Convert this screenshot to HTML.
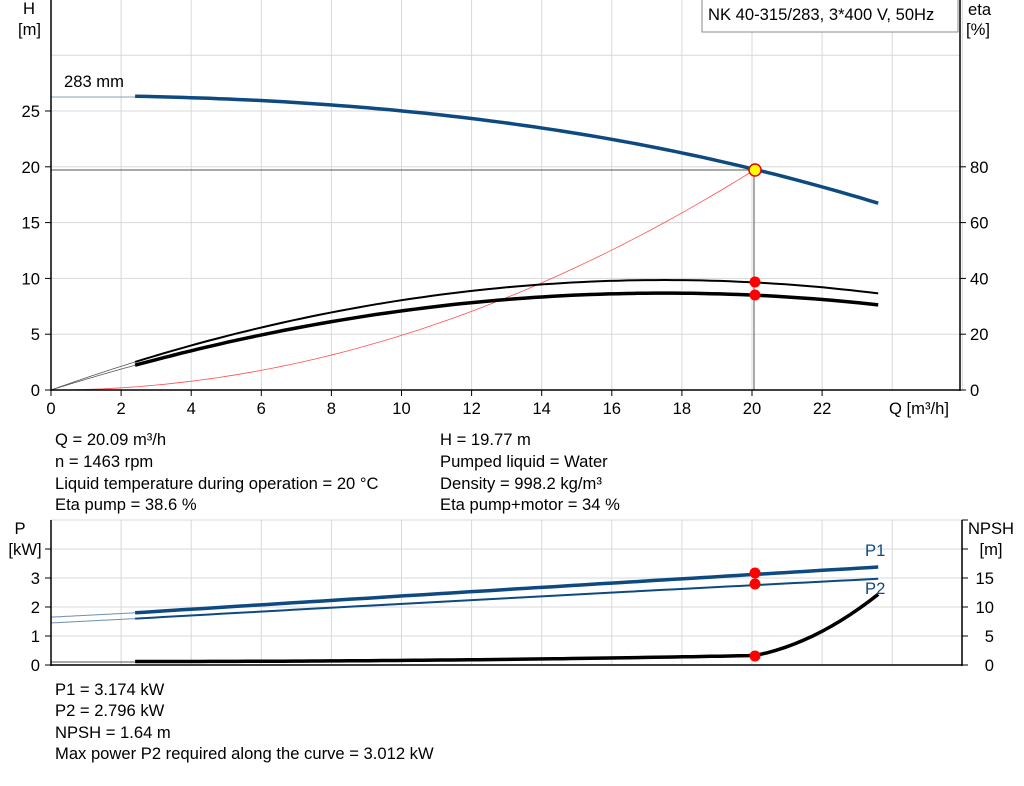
<!DOCTYPE html>
<html><head><meta charset="utf-8"><style>
body{margin:0;background:#fff;width:1024px;height:781px;overflow:hidden;font-family:"Liberation Sans",Arial,sans-serif}
svg text{font-family:"Liberation Sans",Arial,sans-serif;font-size:16.6px;fill:#000}
</style></head><body>
<svg id="s" width="1024" height="781" xmlns="http://www.w3.org/2000/svg">
<g id="grid" stroke="#d8d8d8" stroke-width="1"></g>
<g id="g"></g>
</svg>
<script>
const NS="http://www.w3.org/2000/svg";
const s=document.getElementById('s'),G=document.getElementById('g'),GR=document.getElementById('grid');
function el(t,a,p,txt){const e=document.createElementNS(NS,t);for(const k in a)e.setAttribute(k,a[k]);if(txt!==undefined)e.textContent=txt;(p||G).appendChild(e);return e;}
const X=q=>51+q*35.05;
const YH=h=>390-h*11.16, YE=e=>390-e*2.79;
const YP=p=>665-p*29, YN=n=>665-n*5.8;
for(let q=2;q<=26;q+=2){el('line',{x1:X(q),y1:0,x2:X(q),y2:390},GR);}
for(let h=5;h<=30;h+=5){el('line',{x1:51,y1:YH(h),x2:960,y2:YH(h)},GR);}
for(let q=2;q<=26;q+=2){el('line',{x1:X(q),y1:520,x2:X(q),y2:665},GR);}
for(let p=1;p<=4;p++){el('line',{x1:51,y1:YP(p),x2:962,y2:YP(p)},GR);}
el('line',{x1:51,y1:520,x2:962,y2:520},GR);
function path(f,yf,a,b,attrs){let d='';for(let i=0;i<=80;i++){const q=a+(b-a)*i/80;d+=(i?'L':'M')+X(q).toFixed(1)+' '+yf(f(q)).toFixed(1);}attrs.d=d;attrs.fill='none';el('path',attrs);}
el('line',{x1:51,y1:170,x2:754,y2:170,stroke:'#555','stroke-width':1});
el('line',{x1:754,y1:170,x2:754,y2:390,stroke:'#555','stroke-width':1});
const H=q=>26.39-0.0112*q*q-0.00026*q*q*q;
el('line',{x1:51,y1:97,x2:135,y2:97,stroke:'#8aa0b8','stroke-width':1});
path(H,YH,2.4,23.6,{stroke:'#0e4a80','stroke-width':3.5});
path(q=>0.04898*q*q,YH,0,20.09,{stroke:'#ff5050','stroke-width':0.8});
const E1=q=>0.1287*(35*q-q*q), E2=q=>0.1134*(35*q-q*q);
path(E1,YE,0,2.4,{stroke:'#555','stroke-width':0.8});
path(E2,YE,0,2.4,{stroke:'#555','stroke-width':0.8});
path(E1,YE,2.4,23.6,{stroke:'#000','stroke-width':2});
path(E2,YE,2.4,23.6,{stroke:'#000','stroke-width':3.5});
el('circle',{cx:755,cy:282,r:5.5,fill:'#f00'});
el('circle',{cx:755,cy:295,r:5.5,fill:'#f00'});
el('circle',{cx:755,cy:170,r:6,fill:'#ff0','stroke':'#e00','stroke-width':1.5});
el('line',{x1:51,y1:0,x2:51,y2:391,stroke:'#000','stroke-width':1.5});
el('line',{x1:960,y1:0,x2:960,y2:391,stroke:'#000','stroke-width':1.5});
el('line',{x1:51,y1:390,x2:960,y2:390,stroke:'#000','stroke-width':1.5});
for(let h=0;h<=25;h+=5){el('line',{x1:45,y1:YH(h),x2:51,y2:YH(h),stroke:'#000'});el('text',{x:40,y:YH(h)+6,'text-anchor':'end'},G,h);}
for(let e=0;e<=80;e+=20){el('line',{x1:960,y1:YE(e),x2:966,y2:YE(e),stroke:'#000'});el('text',{x:970,y:YE(e)+6},G,e);}
for(let q=0;q<=22;q+=2){el('line',{x1:X(q),y1:390,x2:X(q),y2:396,stroke:'#000'});el('text',{x:X(q),y:414,'text-anchor':'middle'},G,q);}
el('text',{x:889,y:414},G,'Q [m³/h]');
el('text',{x:23,y:14},G,'H');el('text',{x:18,y:35},G,'[m]');
el('text',{x:968,y:15},G,'eta');el('text',{x:966,y:35},G,'[%]');
el('text',{x:64,y:87},G,'283 mm');
el('rect',{x:702,y:-1,width:256,height:33,fill:'#fff',stroke:'#888'});
el('text',{x:708,y:20},G,'NK 40-315/283, 3*400 V, 50Hz');
[['Q = 20.09 m³/h',55,445],['n = 1463 rpm',55,467],['Liquid temperature during operation = 20 °C',55,489],['Eta pump = 38.6 %',55,510],
 ['H = 19.77 m',440,445],['Pumped liquid = Water',440,467],['Density = 998.2 kg/m³',440,489],['Eta pump+motor = 34 %',440,510],
 ['P1 = 3.174 kW',55,695],['P2 = 2.796 kW',55,716],['NPSH = 1.64 m',55,738],['Max power P2 required along the curve = 3.012 kW',55,759]
].forEach(t=>el('text',{x:t[1],y:t[2]},G,t[0]));
const P1=q=>1.8+0.077*(q-2.4)-0.00012*(q-2.4)*(q-2.4), P2=q=>1.6+0.0676*(q-2.4)-0.00013*(q-2.4)*(q-2.4);
path(q=>1.65+0.0625*q,YP,0,2.4,{stroke:'#6f8fb0','stroke-width':1});
path(q=>1.45+0.0625*q,YP,0,2.4,{stroke:'#6f8fb0','stroke-width':1});
path(P1,YP,2.4,23.6,{stroke:'#0e4a80','stroke-width':3.5});
path(P2,YP,2.4,23.6,{stroke:'#0e4a80','stroke-width':2});
const N=q=>q<=20.09?0.6+0.00332*(q-2.4)*(q-2.4):1.64+1.2*(q-20.09)+0.515*(q-20.09)*(q-20.09);
el('line',{x1:51,y1:662,x2:135,y2:662,stroke:'#555','stroke-width':1});
path(N,YN,2.4,23.6,{stroke:'#000','stroke-width':3.5});
el('circle',{cx:755,cy:573,r:5.5,fill:'#f00'});
el('circle',{cx:755,cy:584,r:5.5,fill:'#f00'});
el('circle',{cx:755,cy:656,r:5.5,fill:'#f00'});
el('text',{x:865,y:556,style:'fill:#0e4a80'},G,'P1');
el('text',{x:865,y:594,style:'fill:#0e4a80'},G,'P2');
el('line',{x1:51,y1:520,x2:51,y2:666,stroke:'#000','stroke-width':1.5});
el('line',{x1:962,y1:520,x2:962,y2:666,stroke:'#000','stroke-width':1.5});
el('line',{x1:51,y1:665,x2:962,y2:665,stroke:'#000','stroke-width':1.5});
for(let p=0;p<=4;p++){el('line',{x1:45,y1:YP(p),x2:51,y2:YP(p),stroke:'#000'});if(p<4)el('text',{x:40,y:YP(p)+6,'text-anchor':'end'},G,p);}
for(let n=0;n<=25;n+=5){el('line',{x1:962,y1:YN(n),x2:968,y2:YN(n),stroke:'#000'});if(n<=15)el('text',{x:994,y:YN(n)+6,'text-anchor':'end'},G,n);}
el('text',{x:20,y:534,'text-anchor':'middle'},G,'P');el('text',{x:25,y:555,'text-anchor':'middle'},G,'[kW]');
el('text',{x:991,y:534,'text-anchor':'middle'},G,'NPSH');el('text',{x:991,y:555,'text-anchor':'middle'},G,'[m]');
</script>
</body></html>
